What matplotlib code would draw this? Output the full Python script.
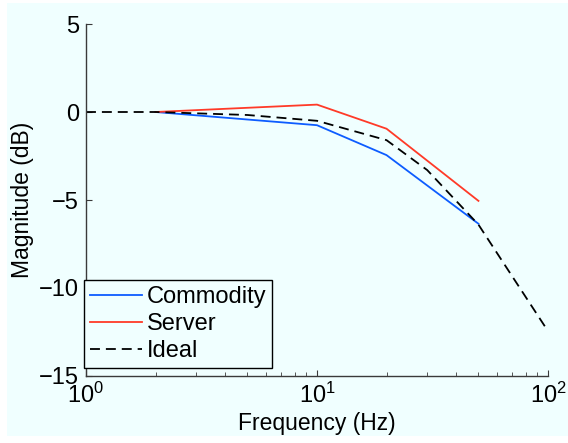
import matplotlib
matplotlib.use("Agg")
import matplotlib.pyplot as plt
from matplotlib.patches import Rectangle
from matplotlib.ticker import LogLocator, NullFormatter

plt.rcParams['font.family'] = ['Liberation Sans', 'DejaVu Sans']
plt.rcParams['mathtext.fontset'] = 'custom'
plt.rcParams['mathtext.rm'] = 'Liberation Sans'
plt.rcParams['mathtext.it'] = 'Liberation Sans'

# values
freq_hw = [2, 10, 20, 50]
commodity = [0.0, -0.75, -2.45, -6.35]
server = [0.0, 0.42, -0.95, -5.05]

freq_ideal = [1, 2, 5, 10, 20, 30, 50, 100]
ideal = [0.0, 0.0, -0.17, -0.5, -1.6, -3.3, -6.4, -12.45]

bg = '#f0ffff'

fig = plt.figure(figsize=(5.68, 4.43), dpi=100, facecolor='white')
fig.patches.append(Rectangle((7/568, 7/443), 1 - 7/568, 1 - 10/443,
                             transform=fig.transFigure, facecolor=bg,
                             edgecolor='none', zorder=-10))
ax = fig.add_axes([86/568, 67/443, 462/568, 352/443])
ax.set_facecolor(bg)

ax.plot(freq_hw, commodity, color='#0d5cff', lw=1.3, label='Commodity')
ax.plot(freq_hw, server, color='#ff3a28', lw=1.3, label='Server')
ax.plot(freq_ideal, ideal, color='black', lw=1.3, linestyle=(0, (5.5, 3.3)),
        label='Ideal')

ax.set_xscale('log')
ax.set_xlim(1, 100)
ax.set_ylim(-15, 5)
ax.set_yticks([-15, -10, -5, 0, 5])
ax.set_yticklabels(['\u221215', '\u221210', '\u22125', '0', '5'])
ax.xaxis.set_minor_locator(LogLocator(base=10, subs=range(2, 10)))
ax.xaxis.set_minor_formatter(NullFormatter())

for s in ['top', 'right']:
    ax.spines[s].set_visible(False)
for s in ['left', 'bottom']:
    ax.spines[s].set_color('#3a3a3a')
    ax.spines[s].set_linewidth(1.0)

ax.tick_params(which='both', direction='in', labelsize=17, color='#3a3a3a')
ax.tick_params(which='major', length=4, pad=5)
ax.tick_params(which='minor', length=3)

ax.set_xlabel('Frequency (Hz)', fontsize=16.5, labelpad=3)
ax.set_ylabel('Magnitude (dB)', fontsize=16.5, labelpad=4)

leg = ax.legend(loc='lower left', bbox_to_anchor=(-0.004, 0.022), fontsize=17,
                frameon=True, fancybox=False, handlelength=2.2,
                handletextpad=0.2, borderpad=0.25, labelspacing=0.22,
                borderaxespad=0)
leg.get_frame().set_edgecolor('black')
leg.get_frame().set_facecolor(bg)
leg.get_frame().set_alpha(1)
leg.get_frame().set_linewidth(1.0)

fig.savefig('out.png', dpi=100, facecolor='white')
